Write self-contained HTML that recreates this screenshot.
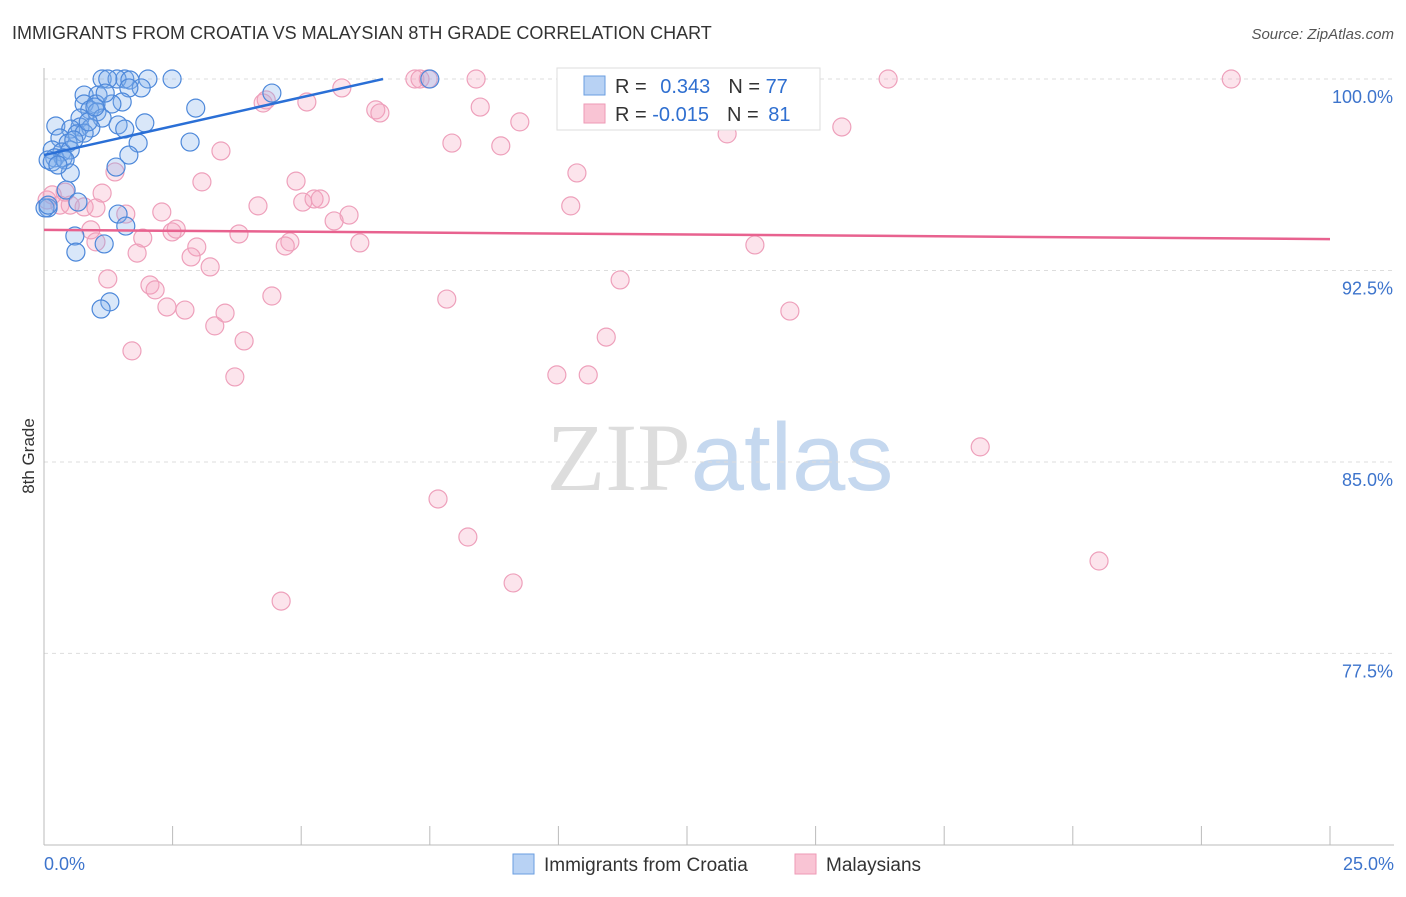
<!DOCTYPE html>
<html><head><meta charset="utf-8"><style>
body{margin:0;background:#fff;font-family:"Liberation Sans",sans-serif}
svg text{font-family:"Liberation Sans",sans-serif}
</style></head><body>
<svg id="chart" width="1406" height="892" xmlns="http://www.w3.org/2000/svg">
<text x="12" y="39" font-size="18" fill="#333">IMMIGRANTS FROM CROATIA VS MALAYSIAN 8TH GRADE CORRELATION CHART</text>
<text x="1394" y="39" font-size="15" fill="#555" text-anchor="end" font-style="italic">Source: ZipAtlas.com</text>
<text x="720" y="490" font-size="96" text-anchor="middle"><tspan fill="#ddd" font-family="Liberation Serif">ZIP</tspan><tspan fill="#c5d8ef">atlas</tspan></text>
<text x="34" y="456" font-size="17" fill="#333" transform="rotate(-90 34 456)" text-anchor="middle">8th Grade</text>
<g id="grid"></g><g id="axes"></g><g id="pts"></g><g id="lines"></g>
<g>
<rect x="557" y="68" width="263" height="62" fill="#fff" stroke="#ddd"/>
<rect x="584" y="76" width="21" height="19" fill="#b8d2f4" stroke="#6a9ee0"/>
<rect x="584" y="104" width="21" height="19" fill="#f9c4d4" stroke="#ee9ab6"/>
<text x="615" y="93" font-size="20" fill="#333">R = <tspan fill="#2f6fd0" dx="8">0.343</tspan><tspan dx="18" fill="#333">N = </tspan><tspan fill="#2f6fd0">77</tspan></text>
<text x="615" y="121" font-size="20" fill="#333">R = <tspan fill="#2f6fd0">-0.015</tspan><tspan dx="18" fill="#333">N = </tspan><tspan fill="#2f6fd0" dx="4">81</tspan></text>
</g>
<g>
<rect x="513" y="854" width="21" height="20" fill="#b8d2f4" stroke="#6a9ee0"/>
<text x="544" y="871" font-size="19" fill="#333">Immigrants from Croatia</text>
<rect x="795" y="854" width="21" height="20" fill="#f9c4d4" stroke="#ee9ab6"/>
<text x="826" y="871" font-size="19" fill="#333">Malaysians</text>
</g>
</svg>
<script>
const blueX=[1.13,1.57,2.02,2.49,1.42,1.67,1.89,1.65,0.78,1.05,4.43,2.95,1.52,1.32,1.01,0.78,0.89,1.03,0.70,1.13,1.44,1.57,1.96,0.23,0.70,0.91,0.52,0.31,0.64,0.47,0.78,1.83,2.84,0.16,0.35,0.51,0.21,0.37,0.08,0.16,0.41,1.65,1.40,0.51,0.08,0.43,0.66,1.44,1.59,0.60,1.17,0.62,1.28,1.11,0.02,0.08,10.36,7.50,1.24,0.86,0.58,0.27,0.99,1.19];
const blueY=[100,100,100,100,100,99.96,99.65,99.65,99.37,99.37,99.45,98.86,99.10,99.02,99.02,99.02,98.79,98.71,98.47,98.47,98.20,98.04,98.28,98.16,98.12,98.08,98.04,97.69,97.85,97.49,97.88,97.49,97.53,97.22,97.14,97.22,96.91,96.91,96.83,96.75,96.83,97.02,96.55,96.32,94.95,95.65,95.18,94.71,94.24,93.85,93.54,93.22,91.27,90.99,94.95,95.06,100,100,100,98.32,97.61,96.63,98.90,99.45];
const pinkX=[0.06,0.16,0.31,0.51,0.78,0.41,1.13,1.38,1.59,2.29,3.07,3.44,4.26,4.32,5.11,5.79,6.45,6.53,7.21,7.31,7.47,8.40,8.48,7.93,8.88,9.25,10.36,10.24,11.53,13.28,14.11,16.41,23.08,15.51,4.16,4.90,5.03,5.25,5.37,5.93,5.64,6.14,4.78,4.69,3.79,2.97,3.23,2.86,2.57,2.49,1.92,1.01,1.81,0.91,1.24,2.06,2.16,2.39,2.74,3.32,3.52,3.89,1.71,3.71,4.43,7.83,9.97,10.58,10.93,11.20,13.82,14.50,18.20,7.66,8.24,9.12,4.61,20.51,1.01];
const pinkY=[95.26,95.46,95.06,95.06,94.99,95.57,95.53,96.36,94.71,94.79,95.97,97.18,99.06,99.18,99.10,99.65,98.79,98.67,100,100,100,100,98.90,97.49,97.38,98.32,96.32,95.03,100,97.85,100,100,100,98.12,95.03,96.00,95.18,95.30,95.30,94.67,94.44,93.58,93.62,93.46,93.93,93.42,92.64,93.03,94.12,94.01,93.77,93.62,93.18,94.09,92.17,91.93,91.74,91.07,90.95,90.33,90.83,89.74,89.35,88.33,91.50,91.38,88.41,88.41,89.89,92.13,93.50,90.91,85.59,83.55,82.06,80.26,79.55,81.12,94.95];
const blueTrend=[[0,97.02],[6.59,100]];
const pinkTrend=[[0,94.09],[25,93.73]];
const yTicks=[100,92.5,85,77.5];
const yTickLabels=["100.0%","92.5%","85.0%","77.5%"];
const xTickVals=[0,2.5,5,7.5,10,12.5,15,17.5,20,22.5,25];

const NS="http://www.w3.org/2000/svg";
const X=v=>44+v/25*1286;
const Y=v=>79+(100-v)*25.53;
function mk(t,a,p){const e=document.createElementNS(NS,t);for(const k in a)e.setAttribute(k,a[k]);p.appendChild(e);return e;}
const grid=document.getElementById('grid'),axes=document.getElementById('axes'),pts=document.getElementById('pts'),lines=document.getElementById('lines');
yTicks.forEach((v,i)=>{
 const l=mk('line',{x1:44,x2:1394,y1:Y(v),y2:Y(v),stroke:'#ddd','stroke-dasharray':'4,4'},grid);
 
 
 const t=mk('text',{x:1393,y:Y(v)+24,'font-size':18,fill:'#3d74cc','text-anchor':'end'},axes);
 t.textContent=yTickLabels[i];
 
 
});
const ya=mk('line',{x1:44,x2:44,y1:68,y2:845,stroke:'#bbb'},axes);


const xa=mk('line',{x1:44,x2:1394,y1:845,y2:845,stroke:'#bbb'},axes);


xTickVals.forEach(v=>{
 const t=mk('line',{x1:X(v),x2:X(v),y1:826,y2:845,stroke:'#bbb'},axes);
 
 
});
const xl0=mk('text',{x:44,y:870,'font-size':18,fill:'#3d74cc'},axes);xl0.textContent="0.0%";


const xl1=mk('text',{x:1394,y:870,'font-size':18,fill:'#3d74cc','text-anchor':'end'},axes);xl1.textContent="25.0%";


pinkX.forEach((x,i)=>{
 const c=mk('circle',{cx:X(x),cy:Y(pinkY[i]),r:9,fill:'rgba(246,165,192,0.3)',stroke:'#eea0bb','stroke-width':1.2},pts);
 
 
});
blueX.forEach((x,i)=>{
 const c=mk('circle',{cx:X(x),cy:Y(blueY[i]),r:9,fill:'rgba(130,175,235,0.3)',stroke:'#4d88da','stroke-width':1.2},pts);
 
 
});
const bl=mk('line',{x1:X(blueTrend[0][0]),y1:Y(blueTrend[0][1]),x2:X(blueTrend[1][0]),y2:Y(blueTrend[1][1]),stroke:'#2a6fd6','stroke-width':2.5},lines);


const pl=mk('line',{x1:X(pinkTrend[0][0]),y1:Y(pinkTrend[0][1]),x2:X(pinkTrend[1][0]),y2:Y(pinkTrend[1][1]),stroke:'#e8628f','stroke-width':2.5},lines);


</script>
</body></html>
